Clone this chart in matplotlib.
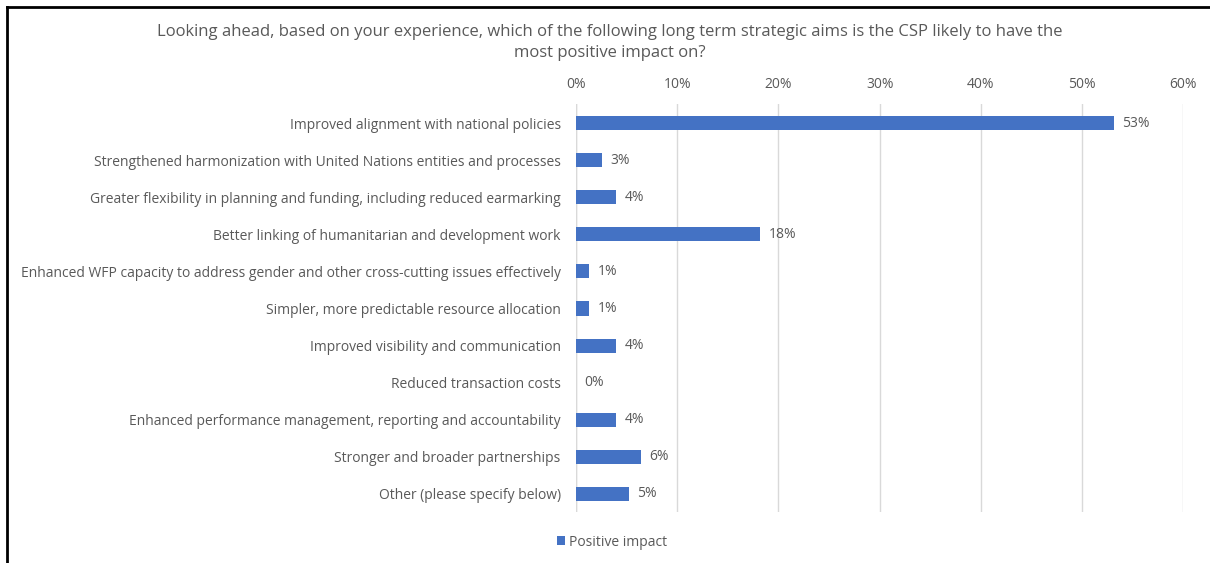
import matplotlib
matplotlib.use("Agg")
from matplotlib import pyplot as plt
from matplotlib.lines import Line2D
from matplotlib.ticker import PercentFormatter
import numpy as np


BAR_BLUE = "#4472C4"
TEXT_GREY = "#595959"
GRID_GREY = "#D9D9D9"

categories = [
	"Improved alignment with national policies",
	"Strengthened harmonization with United Nations entities and processes",
	"Greater flexibility in planning and funding, including reduced earmarking",
	"Better linking of humanitarian and development work",
	"Enhanced WFP capacity to address gender and other cross-cutting issues effectively",
	"Simpler, more predictable resource allocation",
	"Improved visibility and communication",
	"Reduced transaction costs",
	"Enhanced performance management, reporting and accountability",
	"Stronger and broader partnerships",
	"Other (please specify below)",
]
positive_impact = [0.531, 0.026, 0.040, 0.182, 0.013, 0.013, 0.040, 0.0, 0.040, 0.064, 0.052]
x_ticks = [0.0, 0.1, 0.2, 0.3, 0.4, 0.5, 0.6]

title = ("Looking ahead, based on your experience, which of the following long term strategic aims is the CSP likely to have the\n"
		 "most positive impact on?")

plt.rcParams["font.family"] = ["Open Sans", "DejaVu Sans"]

fig = plt.figure(figsize=(12.1, 5.63), dpi=100)
ax = fig.add_axes([0.476, 0.0897, 0.502, 0.7247])

y = np.arange(len(categories))
bars = ax.barh(y, positive_impact, height=0.38, color=BAR_BLUE, zorder=3, label="Positive impact")

# value labels to the right of each bar
for rect, v in zip(bars, positive_impact):
	ax.annotate(f"{v:.0%}", (rect.get_width(), rect.get_y() + rect.get_height() / 2),
				xytext=(6, 0), textcoords="offset points", va="center", ha="left",
				fontsize=10, color=TEXT_GREY)

ax.set_xlim(0, 0.6)
ax.set_ylim(len(categories) - 0.5, -0.5)
ax.set_xticks(x_ticks)
ax.xaxis.set_major_formatter(PercentFormatter(1.0, decimals=0))
ax.xaxis.tick_top()
ax.set_yticks(y)
ax.set_yticklabels(categories)
ax.tick_params(axis="both", length=0, labelsize=10, colors=TEXT_GREY)
ax.tick_params(axis="x", pad=9)
ax.tick_params(axis="y", pad=11)
ax.grid(axis="x", color=GRID_GREY, linewidth=1, zorder=0)
for s in ax.spines.values():
	s.set_visible(False)
ax.axvline(0, color=GRID_GREY, linewidth=1, zorder=2)

fig.text(0.504, 0.925, title, ha="center", va="center", fontsize=12, color=TEXT_GREY, linespacing=1.45)

fig.legend(handles=[bars], labels=["Positive impact"], loc="center", bbox_to_anchor=(0.506, 0.037),
		   frameon=False, fontsize=10, handlelength=0.6, handleheight=0.6, handletextpad=0.3,
		   labelcolor=TEXT_GREY)

# dark frame along top and left edges
fig.add_artist(Line2D([0.0058, 1.0], [0.9876, 0.9876], transform=fig.transFigure, color="black", linewidth=2))
fig.add_artist(Line2D([0.0058, 0.0058], [0.0, 0.9876], transform=fig.transFigure, color="black", linewidth=2))

fig.savefig("out.png", dpi=100)
